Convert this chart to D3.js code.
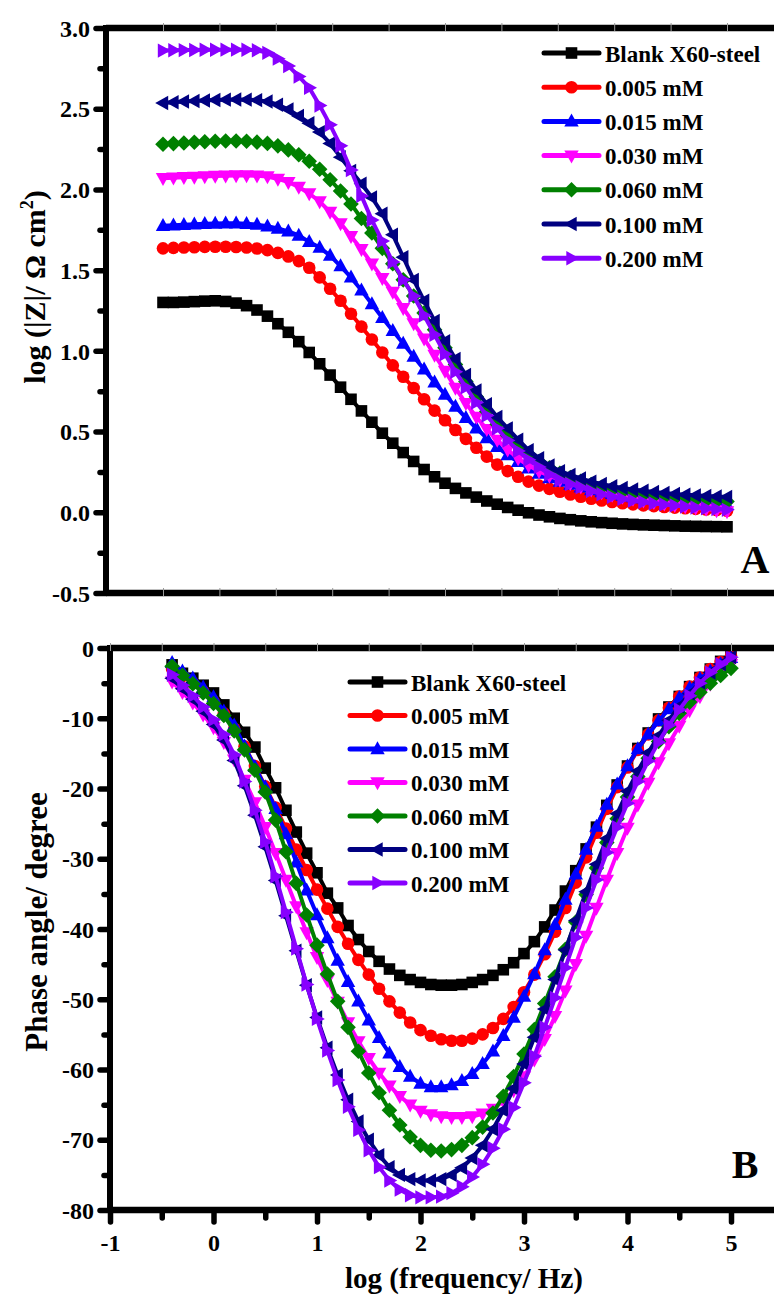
<!DOCTYPE html>
<html><head><meta charset="utf-8">
<script src="https://cdn.jsdelivr.net/npm/d3@7"></script>
<style>body{margin:0;background:#fff}</style>
</head><body>
<svg id="c" width="774" height="1296" xmlns="http://www.w3.org/2000/svg"></svg>
<script>
// ---------------- DATA ----------------
const logF = [-0.4,-0.3,-0.2,-0.1,0.0,0.1,0.2,0.3,0.4,0.5,0.6,0.7,0.8,0.9,1.0,1.1,1.2,1.3,1.4,1.5,1.6,1.7,1.8,1.9,2.0,2.1,2.2,2.3,2.4,2.5,2.6,2.7,2.8,2.9,3.0,3.1,3.2,3.3,3.4,3.5,3.6,3.7,3.8,3.9,4.0,4.1,4.2,4.3,4.4,4.5,4.6,4.7,4.8,4.9,5.0];
const seriesNames = ["Blank X60-steel","0.005 mM","0.015 mM","0.030 mM","0.060 mM","0.100 mM","0.200 mM"];
const seriesColors = ["#000000","#ff0000","#0000ff","#ff00ff","#008000","#000080","#8800ff"];
const seriesShapes = ["square","circle","triUp","triDown","diamond","triLeft","triRight"];

// log |Z| (top panel)
const logZ_blank = [1.300,1.300,1.302,1.305,1.308,1.310,1.306,1.296,1.280,1.253,1.215,1.168,1.115,1.057,0.990,0.920,0.850,0.775,0.700,0.628,0.558,0.490,0.428,0.370,0.315,0.265,0.220,0.180,0.148,0.120,0.094,0.070,0.050,0.030,0.013,-0.003,-0.017,-0.028,-0.038,-0.046,-0.053,-0.059,-0.064,-0.068,-0.072,-0.075,-0.078,-0.080,-0.082,-0.084,-0.086,-0.087,-0.088,-0.089,-0.090];
const logZ_005 = [1.635,1.638,1.640,1.642,1.644,1.645,1.645,1.643,1.640,1.634,1.624,1.607,1.585,1.556,1.515,1.455,1.385,1.310,1.230,1.150,1.070,0.990,0.910,0.840,0.770,0.700,0.630,0.570,0.510,0.455,0.400,0.345,0.295,0.255,0.220,0.190,0.165,0.145,0.127,0.110,0.096,0.084,0.073,0.064,0.056,0.049,0.043,0.038,0.033,0.029,0.025,0.021,0.017,0.014,0.010];
const logZ_015 = [1.775,1.778,1.781,1.784,1.787,1.789,1.790,1.790,1.787,1.782,1.772,1.758,1.740,1.715,1.675,1.640,1.590,1.525,1.455,1.375,1.290,1.205,1.125,1.045,0.965,0.885,0.805,0.730,0.655,0.585,0.520,0.460,0.405,0.355,0.312,0.272,0.240,0.212,0.190,0.172,0.155,0.138,0.125,0.114,0.104,0.095,0.087,0.080,0.074,0.068,0.063,0.058,0.054,0.050,0.047];
const logZ_030 = [2.070,2.072,2.075,2.078,2.080,2.083,2.085,2.087,2.087,2.085,2.080,2.065,2.045,2.015,1.975,1.925,1.860,1.790,1.710,1.630,1.540,1.450,1.365,1.265,1.170,1.075,0.975,0.875,0.770,0.675,0.590,0.515,0.448,0.388,0.333,0.290,0.255,0.225,0.200,0.178,0.158,0.140,0.123,0.108,0.095,0.083,0.072,0.062,0.053,0.044,0.036,0.028,0.020,0.012,0.005];
const logZ_060 = [2.280,2.284,2.288,2.292,2.295,2.298,2.300,2.300,2.298,2.293,2.285,2.270,2.245,2.215,2.175,2.125,2.060,1.990,1.910,1.820,1.730,1.635,1.540,1.440,1.340,1.235,1.130,1.020,0.915,0.810,0.715,0.625,0.545,0.475,0.415,0.360,0.315,0.275,0.242,0.215,0.192,0.172,0.155,0.141,0.129,0.118,0.109,0.101,0.094,0.088,0.083,0.078,0.074,0.070,0.067];
const logZ_100 = [2.535,2.540,2.545,2.548,2.551,2.554,2.556,2.557,2.556,2.553,2.545,2.525,2.495,2.455,2.410,2.355,2.285,2.200,2.115,2.035,1.950,1.850,1.720,1.580,1.440,1.310,1.185,1.060,0.950,0.850,0.755,0.670,0.590,0.520,0.450,0.385,0.335,0.290,0.255,0.232,0.210,0.190,0.175,0.162,0.151,0.141,0.133,0.126,0.120,0.114,0.109,0.105,0.101,0.098,0.095];
const logZ_200 = [2.860,2.862,2.863,2.864,2.865,2.865,2.866,2.866,2.865,2.862,2.846,2.810,2.765,2.700,2.630,2.520,2.400,2.270,2.120,1.960,1.810,1.680,1.550,1.440,1.340,1.220,1.100,0.980,0.870,0.775,0.680,0.600,0.520,0.445,0.380,0.325,0.280,0.235,0.200,0.175,0.155,0.132,0.112,0.096,0.083,0.072,0.063,0.055,0.048,0.042,0.036,0.030,0.025,0.020,0.015];

// phase angle (bottom panel)
const phase_blank = [-2.4,-3.6,-4.3,-5.3,-6.4,-8.1,-10.0,-12.0,-14.1,-17.1,-19.9,-23.1,-26.2,-29.2,-32.0,-34.9,-37.0,-39.5,-41.5,-43.2,-44.6,-45.7,-46.6,-47.2,-47.6,-47.9,-48.0,-48.0,-47.9,-47.6,-47.2,-46.6,-45.8,-44.8,-43.5,-41.8,-39.7,-37.3,-34.6,-31.7,-28.6,-25.5,-22.4,-19.5,-16.8,-14.3,-12.1,-10.1,-8.4,-6.9,-5.5,-4.2,-3.0,-1.9,-0.9];
const phase_005 = [-3.0,-4.0,-5.0,-6.2,-7.6,-9.3,-11.5,-14.0,-16.8,-19.7,-22.7,-25.7,-28.7,-31.6,-34.4,-37.1,-39.7,-42.1,-44.4,-46.5,-48.5,-50.3,-51.9,-53.3,-54.4,-55.2,-55.7,-55.9,-55.9,-55.6,-55.0,-54.1,-52.8,-51.1,-49.0,-46.5,-43.6,-40.4,-37.0,-33.4,-29.8,-26.3,-22.9,-19.8,-17.0,-14.5,-12.3,-10.3,-8.5,-6.9,-5.5,-4.2,-3.0,-2.0,-1.1];
const phase_015 = [-2.1,-3.3,-4.3,-5.6,-7.0,-9.0,-11.0,-14.0,-16.9,-19.8,-22.9,-26.5,-30.5,-34.5,-38.0,-41.3,-44.5,-47.5,-50.3,-53.0,-55.5,-57.7,-59.6,-61.0,-62.0,-62.5,-62.5,-62.2,-61.6,-60.6,-59.2,-57.4,-55.2,-52.6,-49.6,-46.4,-43.0,-39.4,-35.8,-32.2,-28.7,-25.4,-22.3,-19.4,-16.8,-14.4,-12.3,-10.4,-8.7,-7.1,-5.7,-4.4,-3.3,-2.3,-1.4];
const phase_030 = [-4.8,-6.3,-7.8,-9.5,-11.3,-13.4,-15.9,-18.8,-22.0,-25.5,-29.2,-33.0,-36.8,-40.5,-44.0,-47.3,-50.4,-53.3,-56.0,-58.4,-60.5,-62.3,-63.8,-65.0,-65.9,-66.4,-66.7,-66.8,-66.8,-66.7,-66.3,-65.6,-64.5,-63.0,-61.0,-58.6,-55.7,-52.4,-48.8,-45.0,-41.0,-37.0,-33.0,-29.2,-25.6,-22.3,-19.2,-16.3,-13.6,-11.1,-8.9,-6.9,-5.1,-3.6,-2.3];
const phase_060 = [-2.6,-3.9,-5.1,-6.4,-7.9,-9.6,-11.8,-14.5,-17.4,-20.5,-24.5,-29.0,-33.5,-38.0,-42.3,-46.4,-50.3,-54.0,-57.4,-60.5,-63.3,-65.8,-67.9,-69.6,-70.8,-71.5,-71.6,-71.4,-70.8,-69.7,-68.2,-66.2,-63.8,-61.0,-57.8,-54.3,-50.6,-46.8,-42.9,-39.0,-35.1,-31.3,-27.7,-24.3,-21.2,-18.3,-15.7,-13.3,-11.2,-9.3,-7.7,-6.3,-5.0,-3.9,-2.9];
const phase_100 = [-4.3,-5.8,-7.3,-9.0,-10.9,-13.1,-16.0,-19.6,-23.8,-28.3,-33.1,-38.1,-43.1,-48.0,-52.6,-56.9,-60.8,-64.3,-67.4,-70.0,-72.2,-73.9,-75.0,-75.6,-75.8,-75.8,-75.6,-75.0,-74.0,-72.6,-70.8,-68.5,-65.8,-62.7,-59.2,-55.4,-51.4,-47.2,-43.0,-38.8,-34.7,-30.8,-27.1,-23.6,-20.4,-17.5,-14.9,-12.5,-10.3,-8.3,-6.5,-4.9,-3.5,-2.3,-1.3];
const phase_200 = [-3.8,-5.3,-6.8,-8.4,-10.2,-12.3,-15.2,-19.0,-23.1,-27.6,-32.5,-37.6,-42.8,-47.9,-52.8,-57.3,-61.5,-65.3,-68.6,-71.5,-73.9,-75.8,-77.1,-77.9,-78.2,-78.2,-78.1,-77.6,-76.7,-75.3,-73.5,-71.2,-68.5,-65.4,-61.9,-58.1,-54.0,-49.8,-45.5,-41.2,-37.0,-33.0,-29.1,-25.5,-22.1,-19.0,-16.1,-13.4,-11.0,-8.8,-6.8,-5.0,-3.5,-2.3,-1.3];

const topYTicks = [-0.5,0.0,0.5,1.0,1.5,2.0,2.5,3.0];
const topYMinor = [-0.25,0.25,0.75,1.25,1.75,2.25,2.75];
const botYTicks = [-80,-70,-60,-50,-40,-30,-20,-10,0];
const botYMinor = [-75,-65,-55,-45,-35,-25,-15,-5];
const botXTicks = [-1,0,1,2,3,4,5];
const botXMinor = [-0.5,0.5,1.5,2.5,3.5,4.5];

const logZSeries = [logZ_blank,logZ_005,logZ_015,logZ_030,logZ_060,logZ_100,logZ_200];
const phaseSeries = [phase_blank,phase_005,phase_015,phase_030,phase_060,phase_100,phase_200];

// ---------------- DRAW ----------------
const FONT = "'Liberation Serif','Times New Roman',serif";
const svg = d3.select("#c");
svg.append("rect").attr("width",774).attr("height",1296).attr("fill","#fff");

const xTop = d3.scaleLinear().domain([-0.4,5.0]).range([163,727]);
const yTop = d3.scaleLinear().domain([-0.5,3.0]).range([593,28]);
const xBot = d3.scaleLinear().domain([-1,5]).range([110,731]);
const yBot = d3.scaleLinear().domain([-80,0]).range([1210,648]);

const fmt1 = d => d.toFixed(1);
const fmt0 = d => String(d);

function markerPath(shape){
  switch(shape){
    case "square": return "M-5.8,-5.8H5.8V5.8H-5.8Z";
    case "circle": return "M6.3,0A6.3,6.3 0 1,1 -6.3,0A6.3,6.3 0 1,1 6.3,0Z";
    case "triUp": return "M0,-7.8L7.2,5.2L-7.2,5.2Z";
    case "triDown": return "M0,7.8L7.2,-5.2L-7.2,-5.2Z";
    case "triLeft": return "M-7.8,0L5.2,-7.2L5.2,7.2Z";
    case "triRight": return "M7.8,0L-5.2,-7.2L-5.2,7.2Z";
    case "diamond": return "M0,-7.8L7.8,0L0,7.8L-7.8,0Z";
  }
}

function styleAxis(g, sw){
  g.select(".domain").remove();
  g.selectAll(".tick line").attr("stroke","#000").attr("stroke-width",sw).attr("stroke-linecap","round");
  g.selectAll(".tick text").attr("font-family",FONT).attr("font-weight","bold").attr("font-size","24px").attr("fill","#000");
}

function panel(x, y, series, left, top, bottom, yTicks, yMinor, yFmt, clipId){
  svg.append("clipPath").attr("id",clipId).append("rect")
    .attr("x",left).attr("y",top-10).attr("width",774-left).attr("height",bottom-top+20);
  const g = svg.append("g").attr("clip-path",`url(#${clipId})`);
  const line = d3.line().x(d=>x(d[0])).y(d=>y(d[1]));
  series.forEach((vals,i)=>{
    const pts = logF.map((f,k)=>[f,vals[k]]).filter(d=>d[1]!==undefined);
    g.append("path").datum(pts).attr("d",line).attr("fill","none")
      .attr("stroke",seriesColors[i]).attr("stroke-width",4).attr("stroke-linejoin","round");
    g.selectAll(null).data(pts).enter().append("path")
      .attr("d",markerPath(seriesShapes[i]))
      .attr("transform",d=>`translate(${x(d[0])},${y(d[1])})`)
      .attr("fill",seriesColors[i]);
  });
  const ya = svg.append("g").attr("transform",`translate(${left},0)`)
    .call(d3.axisLeft(y).tickValues(yTicks).tickSize(10).tickPadding(6).tickFormat(yFmt));
  styleAxis(ya,5.5);
  ya.selectAll(".tick text").attr("dy","0.34em");
  const ym = svg.append("g").attr("transform",`translate(${left},0)`)
    .call(d3.axisLeft(y).tickValues(yMinor).tickSize(6).tickFormat(""));
  styleAxis(ym,5.5);
  svg.append("line").attr("x1",left).attr("x2",790).attr("y1",top).attr("y2",top).attr("stroke","#000").attr("stroke-width",6.5);
  svg.append("line").attr("x1",left).attr("x2",790).attr("y1",bottom).attr("y2",bottom).attr("stroke","#000").attr("stroke-width",6.5);
  svg.append("line").attr("x1",left).attr("x2",left).attr("y1",top-3).attr("y2",bottom+3).attr("stroke","#000").attr("stroke-width",6);
}

panel(xTop, yTop, logZSeries, 106, 28, 593, topYTicks, topYMinor, fmt1, "clipTop");
panel(xBot, yBot, phaseSeries, 110, 648, 1210, botYTicks, botYMinor, fmt0, "clipBot");

// thin ticks on top panel (top and bottom edges)
const topXThin = d3.range(11).map(i=>-0.4+i*0.54);
[28,593].forEach(yy=>{
  const a = svg.append("g").attr("transform",`translate(0,${yy+3})`)
    .call(d3.axisTop(xTop).tickValues(topXThin).tickSize(8).tickFormat(""));
  a.select(".domain").remove();
  a.selectAll(".tick line").attr("stroke","#9a9a9a").attr("stroke-width",1);
});
{
  const a = svg.append("g").attr("transform",`translate(0,651)`)
    .call(d3.axisTop(xBot).tickValues(botXTicks.concat(botXMinor)).tickSize(8).tickFormat(""));
  a.select(".domain").remove();
  a.selectAll(".tick line").attr("stroke","#9a9a9a").attr("stroke-width",1);
}
// bottom x axis
{
  const a = svg.append("g").attr("transform",`translate(0,1210)`)
    .call(d3.axisBottom(xBot).tickValues(botXTicks).tickSize(12).tickPadding(12).tickFormat(fmt0));
  styleAxis(a,5.5);
  const m = svg.append("g").attr("transform",`translate(0,1210)`)
    .call(d3.axisBottom(xBot).tickValues(botXMinor).tickSize(8).tickFormat(""));
  styleAxis(m,5.5);
}

// legends
function legend(x0, y0, dy){
  seriesNames.forEach((name,i)=>{
    const yy = y0 + i*dy;
    svg.append("line").attr("x1",x0).attr("x2",x0+55).attr("y1",yy).attr("y2",yy)
      .attr("stroke",seriesColors[i]).attr("stroke-width",5).attr("stroke-linecap","round");
    svg.append("path").attr("d",markerPath(seriesShapes[i])).attr("fill",seriesColors[i])
      .attr("transform",`translate(${x0+27.5},${yy})`);
    svg.append("text").attr("x",x0+61).attr("y",yy+8.5).text(name)
      .attr("font-family",FONT).attr("font-weight","bold").attr("font-size","23px").attr("fill","#000");
  });
}
legend(544, 53, 34.2);
legend(350, 682, 33.5);

// panel letters
svg.append("text").attr("x",755).attr("y",573).attr("text-anchor","middle").text("A")
  .attr("font-family",FONT).attr("font-weight","bold").attr("font-size","40px");
svg.append("text").attr("x",745).attr("y",1178).attr("text-anchor","middle").text("B")
  .attr("font-family",FONT).attr("font-weight","bold").attr("font-size","40px");

// axis titles
{
  const t = svg.append("text").attr("transform","translate(45,287) rotate(-90)").attr("text-anchor","middle")
    .attr("font-family",FONT).attr("font-weight","bold").attr("font-size","30px");
  t.append("tspan").text("log (|Z|/ Ω cm");
  t.append("tspan").attr("dy",-12).attr("font-size","18px").text("2");
  t.append("tspan").attr("dy",12).text(")");
}
svg.append("text").attr("transform","translate(47,922) rotate(-90)").attr("text-anchor","middle")
  .attr("font-family",FONT).attr("font-weight","bold").attr("font-size","31px").text("Phase angle/ degree");
svg.append("text").attr("x",464).attr("y",1288).attr("text-anchor","middle")
  .attr("font-family",FONT).attr("font-weight","bold").attr("font-size","29px").text("log (frequency/ Hz)");
</script>
</body></html>
